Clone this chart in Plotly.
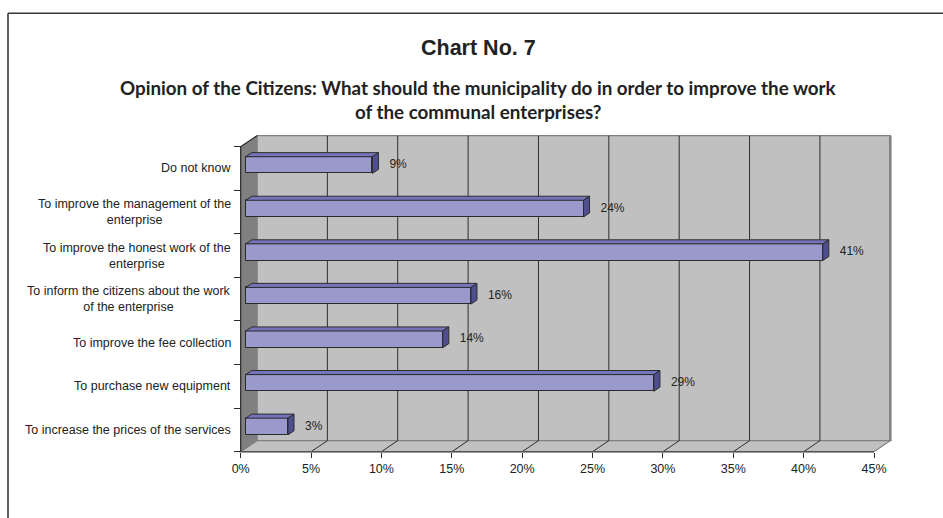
import plotly.graph_objects as go

# ---- data -------------------------------------------------------------
categories = [
    "To increase the prices of the services",
    "To purchase new equipment",
    "To improve the fee collection",
    "To inform the citizens about the work<br>of the enterprise",
    "To improve the honest work of the<br>enterprise",
    "To improve the management of the<br>enterprise",
    "Do not know",
]
shares = [3, 29, 14, 16, 41, 24, 9]          # percent of respondents
x_tick_values = [0, 5, 10, 15, 20, 25, 30, 35, 40, 45]
x_tick_labels = ["0%", "5%", "10%", "15%", "20%", "25%", "30%", "35%", "40%", "45%"]

title_text = "Chart No. 7"
subtitle_lines = [
    "Opinion of the Citizens: What should the municipality do in order to improve the work",
    "of the communal enterprises?",
]

# ---- canvas geometry ---------------------------------------------------
W, H = 943, 518
X0_PX, X45_PX = 240.7, 874.0          # front edge of the floor: 0% .. 45%
FLOOR_PX, TOP_PX = 451.7, 146.7       # front-left edge of the side wall
PPX = (X45_PX - X0_PX) / 45.0         # pixels per percent
PPY = (FLOOR_PX - TOP_PX) / len(categories)   # pixels per category band

x_range = [-X0_PX / PPX, (W - X0_PX) / PPX]
y_range = [-0.5 - (H - FLOOR_PX) / PPY, -0.5 + FLOOR_PX / PPY]

# oblique depth of the 3-D box (data units)
DX = 16.3 / PPX
DY = 11.0 / PPY
# bars sit inside the box between these depth fractions
F1, F2 = 0.31, 0.68
BAR_W = 16.7 / PPY
LABEL_GAP = 17.0 / PPX

n = len(categories)
y_bottom, y_top = -0.5, n - 0.5
x_max = x_tick_values[-1]

WALL = "#c0c0c0"
SIDE_WALL = "#808080"
EDGE = "#808080"
GRID = "#2e2e2e"
FRONT = "#9999cc"
TOP = "#7474bb"
SIDE = "#4f4f8f"
OUTLINE = "#2b2b2b"
TEXT = "#222222"


def poly(points):
    return "M " + " L ".join(f"{x},{y}" for x, y in points) + " Z"


shapes = []
# back wall
shapes.append(dict(type="rect", xref="x", yref="y", layer="below",
                   x0=DX, x1=x_max + DX, y0=y_bottom + DY, y1=y_top + DY,
                   fillcolor=WALL, line=dict(color=EDGE, width=1.2)))
# right edge of the back wall
shapes.append(dict(type="line", xref="x", yref="y", layer="below",
                   x0=x_max + DX, x1=x_max + DX, y0=y_bottom + DY, y1=y_top + DY,
                   line=dict(color=EDGE, width=2.5)))
# floor
shapes.append(dict(type="path", xref="x", yref="y", layer="below",
                   path=poly([(0, y_bottom), (x_max, y_bottom),
                              (x_max + DX, y_bottom + DY), (DX, y_bottom + DY)]),
                   fillcolor=WALL, line=dict(color=EDGE, width=1.2)))
# left side wall
shapes.append(dict(type="path", xref="x", yref="y", layer="below",
                   path=poly([(0, y_bottom), (0, y_top),
                              (DX, y_top + DY), (DX, y_bottom + DY)]),
                   fillcolor=SIDE_WALL, line=dict(color=SIDE_WALL, width=1)))
# gridlines on the back wall and across the floor
for v in x_tick_values[1:-1]:
    shapes.append(dict(type="line", xref="x", yref="y", layer="below",
                       x0=v + DX, x1=v + DX, y0=y_bottom + DY, y1=y_top + DY,
                       line=dict(color=GRID, width=1)))
    shapes.append(dict(type="line", xref="x", yref="y", layer="below",
                       x0=v, x1=v + DX, y0=y_bottom, y1=y_bottom + DY,
                       line=dict(color=GRID, width=1)))
# front axis line, left axis line and top edge of the side wall
shapes.append(dict(type="line", xref="x", yref="y", layer="below",
                   x0=0, x1=x_max, y0=y_bottom, y1=y_bottom,
                   line=dict(color="#555555", width=1.6)))
shapes.append(dict(type="line", xref="x", yref="y", layer="below",
                   x0=0, x1=0, y0=y_bottom, y1=y_top,
                   line=dict(color=OUTLINE, width=1.2)))
shapes.append(dict(type="line", xref="x", yref="y", layer="below",
                   x0=0, x1=DX, y0=y_top, y1=y_top + DY,
                   line=dict(color=OUTLINE, width=1.2)))
# chart frame
shapes.append(dict(type="line", xref="paper", yref="paper",
                   x0=8 / W, x1=1.01, y0=1 - 13.3 / H, y1=1 - 13.3 / H,
                   line=dict(color="#3a3a3a", width=1.6)))
shapes.append(dict(type="line", xref="paper", yref="paper",
                   x0=8 / W, x1=8 / W, y0=-0.01, y1=1 - 13.3 / H,
                   line=dict(color="#3a3a3a", width=1.6)))

fig = go.Figure()

# front faces of the bars
y_front = [i + F1 * DY for i in range(n)]
fig.add_trace(go.Bar(
    x=shares, y=y_front, base=F1 * DX, orientation="h", width=BAR_W,
    marker=dict(color=FRONT, line=dict(color=OUTLINE, width=1)),
    hoverinfo="skip", showlegend=False,
))

# top and side faces of the bars
ddx, ddy = (F2 - F1) * DX, (F2 - F1) * DY
top_x, top_y, side_x, side_y = [], [], [], []
for yc, v in zip(y_front, shares):
    b = F1 * DX
    yt, yb = yc + BAR_W / 2, yc - BAR_W / 2
    top_x += [b, b + v, b + v + ddx, b + ddx, b, None]
    top_y += [yt, yt, yt + ddy, yt + ddy, yt, None]
    side_x += [b + v, b + v, b + v + ddx, b + v + ddx, b + v, None]
    side_y += [yb, yt, yt + ddy, yb + ddy, yb, None]
fig.add_trace(go.Scatter(x=top_x, y=top_y, fill="toself", fillcolor=TOP,
                         mode="lines", line=dict(color=OUTLINE, width=1),
                         hoverinfo="skip", showlegend=False))
fig.add_trace(go.Scatter(x=side_x, y=side_y, fill="toself", fillcolor=SIDE,
                         mode="lines", line=dict(color=OUTLINE, width=1),
                         hoverinfo="skip", showlegend=False))

# value labels
fig.add_trace(go.Scatter(
    x=[v + F1 * DX + LABEL_GAP for v in shares], y=y_front,
    mode="text", text=[f"{v}%" for v in shares], textposition="middle right",
    textfont=dict(family="Liberation Sans, Arial, sans-serif", size=12, color=TEXT),
    hoverinfo="skip", showlegend=False,
))

annotations = []
# category labels
for i, name in enumerate(categories):
    annotations.append(dict(
        x=-7.5 / PPX, y=i, xref="x", yref="y", text=name, showarrow=False,
        xanchor="right", yanchor="middle", align="center",
        font=dict(family="Liberation Sans, Arial, sans-serif", size=12.5, color=TEXT),
    ))
# titles
annotations.append(dict(
    x=478 / W, y=1 - 48 / H, xref="paper", yref="paper", text=f"<b>{title_text}</b>",
    showarrow=False, xanchor="center", yanchor="middle",
    font=dict(family="Liberation Sans, Arial, sans-serif", size=21.5, color=TEXT),
))
for k, line in enumerate(subtitle_lines):
    annotations.append(dict(
        x=478 / W, y=1 - (87 + 24 * k) / H, xref="paper", yref="paper",
        text=f"<b>{line}</b>", showarrow=False, xanchor="center", yanchor="middle",
        font=dict(family="Lato, sans-serif", size=18.8, color=TEXT),
    ))

fig.update_layout(
    width=W, height=H,
    margin=dict(l=0, r=0, t=0, b=0),
    paper_bgcolor="white", plot_bgcolor="white",
    shapes=shapes, annotations=annotations,
    xaxis=dict(domain=[0, 1], range=x_range, anchor="free",
               position=(H - FLOOR_PX) / H,
               tickmode="array", tickvals=x_tick_values, ticktext=x_tick_labels,
               ticks="outside", ticklen=5, tickcolor=OUTLINE, tickwidth=1,
               showline=False, showgrid=False, zeroline=False,
               tickfont=dict(family="Liberation Sans, Arial, sans-serif", size=12.5, color=TEXT)),
    yaxis=dict(domain=[0, 1], range=y_range, anchor="free",
               position=X0_PX / W,
               tickmode="array", tickvals=[k - 0.5 for k in range(n + 1)],
               ticks="outside", ticklen=7, tickcolor=OUTLINE, tickwidth=1,
               showticklabels=False,
               showline=False, showgrid=False, zeroline=False),
    bargap=0,
)

fig.write_html("out.html")
